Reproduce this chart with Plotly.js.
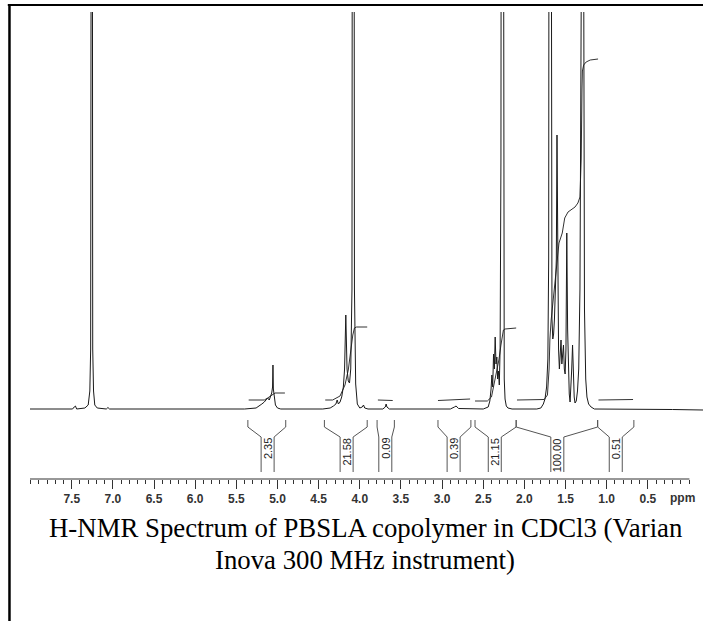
<!DOCTYPE html>
<html><head><meta charset="utf-8">
<script src="https://cdn.plot.ly/plotly-3.0.1.min.js"></script>
<style>html,body{margin:0;padding:0;background:#fff}#chart{width:703px;height:621px}</style>
</head><body><div id="chart"></div>
<script>
// ---- Spectrum (chemical shift in ppm, intensity in arbitrary units; tall peaks run off-scale) ----
const ppm = [
 8.007, 7.60, 7.49, 7.47, 7.455, 7.44, 7.34, 7.30, 7.28, 7.27, 7.262, 7.255, 7.245, 7.235, 7.22, 7.19, 7.08, 7.06, 7.04,
 5.40, 5.26, 5.22, 5.19, 5.16, 5.14, 5.12, 5.10, 5.085, 5.07, 5.06, 5.055, 5.05, 5.04, 5.025, 5.00, 4.96,
 4.45, 4.36, 4.32, 4.29, 4.275, 4.26, 4.24, 4.22, 4.20, 4.185, 4.17, 4.155, 4.14, 4.125, 4.11, 4.095, 4.085, 4.075, 4.065, 4.05, 4.03, 4.00, 3.97, 3.955, 3.94, 3.90,
 3.72, 3.69, 3.68, 3.67, 3.64,
 2.90, 2.85, 2.83, 2.80,
 2.50, 2.44, 2.42, 2.405, 2.395, 2.385, 2.375, 2.365, 2.355, 2.345, 2.335, 2.325, 2.315, 2.305, 2.295, 2.285, 2.275, 2.265, 2.255, 2.245, 2.235, 2.22, 2.20, 2.15,
 1.85, 1.80, 1.77, 1.75, 1.73, 1.715, 1.705, 1.695, 1.685, 1.675, 1.665, 1.655, 1.645, 1.635, 1.62, 1.612, 1.604, 1.596, 1.585, 1.575, 1.565, 1.555, 1.545, 1.535, 1.525, 1.515, 1.505, 1.495, 1.485, 1.475, 1.465, 1.455, 1.445, 1.435, 1.425, 1.415, 1.405, 1.395, 1.385, 1.37, 1.355, 1.34, 1.325, 1.31, 1.30, 1.29, 1.28, 1.27, 1.255, 1.24, 1.22, 1.19, 1.15,
 0.90, 0.50, 0.20, -0.170
];
const intensity = [
 0, 0, 0, 2, 3, 0, 1, 4, 18, 60, 1200, 1200, 60, 18, 4, 1, 0, 1.5, 0,
 0, 1, 3, 5, 7, 9, 11, 9, 13, 16, 22, 44, 20, 10, 4, 1, 0,
 0, 1, 3, 5, 9, 5, 7, 12, 22, 40, 94, 40, 28, 26, 40, 120, 1200, 1200, 120, 25, 5, 1, 2, 4, 1, 0,
 0, 2, 5, 2, 0,
 0, 2, 3, 0.5,
 0, 2, 8, 20, 34, 22, 55, 40, 72, 45, 52, 30, 38, 24, 60, 250, 1200, 1200, 150, 30, 10, 3, 1, 0,
 0, 1, 5, 10, 22, 50, 150, 1200, 1200, 200, 90, 70, 75, 90, 140, 150, 274, 150, 60, 40, 55, 69, 45, 55, 64, 40, 35, 60, 176, 80, 30, 15, 7, 20, 40, 64, 30, 12, 6, 8, 18, 40, 120, 400, 1200, 1200, 400, 100, 30, 12, 5, 2, 0,
 0, -0.5, -0.5, -1
];

// ---- Integral curves (segments separated by null) ----
const integralPpm = [
 5.35, 5.16, 5.12, 5.08, 5.055, 5.03, 4.91, null,
 4.42, 4.33, 4.24, 4.18, 4.14, 4.11, 4.085, 4.065, 4.04, 3.91, null,
 3.78, 3.60, null,
 3.05, 2.66, null,
 2.60, 2.45, 2.40, 2.37, 2.345, 2.31, 2.285, 2.27, 2.255, 2.235, 2.10, null,
 2.09, 1.76, 1.72, 1.70, 1.69, 1.675, 1.58, 1.54, 1.51, 1.47, 1.385, 1.35, 1.325, 1.31, 1.30, 1.295, 1.28, 1.25, 1.20, 1.105, null,
 1.10, 0.68
];
const integralValue = [
 9, 9, 11, 13, 15, 16, 16, null,
 9, 9, 13, 24, 39, 59, 74, 81, 82, 82, null,
 9, 8.5, null,
 8.5, 10, null,
 8, 8, 12, 24, 37, 49, 64, 74, 79, 80, 81, null,
 9, 9.5, 14, 40, 70, 89, 166, 176, 191, 197, 202, 206, 212, 250, 320, 338, 344, 347, 349, 350, null,
 9, 9.5
];

// ---- Integration regions (ppm) and their values ----
const regionFrom  = [5.36, 4.43, 3.79, 3.05, 2.60, 2.10, 1.11];
const regionTo    = [4.90, 3.91, 3.58, 2.65, 2.10, 1.11, 0.67];
const regionMid   = [5.12, 4.16, 3.69, 2.86, 2.36, 1.60, 0.89];
const regionLabel = ['2.35', '21.58', '0.09', '0.39', '21.15', '100.00', '0.51'];

// ---- Axis ticks ----
const tickVals = [8.0, 7.5, 7.0, 6.5, 6.0, 5.5, 5.0, 4.5, 4.0, 3.5, 3.0, 2.5, 2.0, 1.5, 1.0, 0.5, 0.0];
const tickText = ['', '7.5', '7.0', '6.5', '6.0', '5.5', '5.0', '4.5', '4.0', '3.5', '3.0', '2.5', '2.0', '1.5', '1.0', '0.5', ''];
const unitLabel = 'ppm';
const captionLines = ['H-NMR Spectrum of PBSLA copolymer in CDCl3 (Varian', 'Inova 300 MHz instrument)'];

// ---- build ----
const minorVals = [];
for (let i = 0; i <= 80; i++) minorVals.push(i / 10);

const G = 6.5 / 82.3; // half gap of bracket label slot (ppm)
const bx = [], by = [];
for (let i = 0; i < regionFrom.length; i++) {
  const m = regionMid[i];
  bx.push(regionFrom[i], regionFrom[i], m + G, m + G, null, regionTo[i], regionTo[i], m - G, m - G, null);
  by.push(-11, -18, -28, -63, null, -11, -18, -28, -63, null);
}

const traces = [
  {x: bx, y: by, mode: 'lines', line: {color: '#555', width: 1}, hoverinfo: 'skip', connectgaps: false},
  {x: integralPpm, y: integralValue, mode: 'lines', line: {color: '#333', width: 1}, connectgaps: false, hoverinfo: 'skip'},
  {x: ppm, y: intensity, mode: 'lines', line: {color: '#1a1a1a', width: 1}, hoverinfo: 'skip'}
];

const annotations = regionLabel.map((t, i) => ({
  x: regionMid[i], y: -27, xref: 'x', yref: 'y', text: t, showarrow: false,
  textangle: -90, yanchor: 'top', xanchor: 'center',
  font: {family: 'Liberation Sans, Arial, sans-serif', size: 11, color: '#222'}
}));
annotations.push({
  x: 0.079, y: (479 - 498) / 467, xref: 'x', yref: 'paper', text: unitLabel, showarrow: false,
  xanchor: 'center', yanchor: 'middle',
  font: {family: 'Liberation Sans, Arial, sans-serif', size: 12, color: '#333', weight: 'bold'}
});
const capY = [(479 - 528) / 467, (479 - 560) / 467];
captionLines.forEach((t, i) => annotations.push({
  x: 0.4978, y: capY[i], xref: 'paper', yref: 'paper', text: t, showarrow: false,
  xanchor: 'center', yanchor: 'middle',
  font: {family: 'Liberation Serif, Times New Roman, serif', size: 26.8, color: '#000'}
}));

const layout = {
  width: 703, height: 621,
  margin: {l: 30, r: 0, t: 12, b: 142, pad: 0},
  paper_bgcolor: '#fff', plot_bgcolor: '#fff',
  showlegend: false,
  xaxis: {
    range: [8.007, -0.170], tickmode: 'array', tickvals: tickVals, ticktext: tickText,
    ticks: 'outside', ticklen: 9, tickwidth: 1, tickcolor: '#333',
    tickfont: {family: 'Liberation Sans, Arial, sans-serif', size: 12, color: '#333', weight: 'bold'},
    showgrid: false, zeroline: false, showline: false, fixedrange: true,
    minor: {tickmode: 'array', tickvals: minorVals, ticks: 'outside', ticklen: 4, tickwidth: 1, tickcolor: '#333', showgrid: false}
  },
  yaxis: {range: [-70, 397], visible: false, fixedrange: true},
  shapes: [
    {type: 'line', xref: 'x', yref: 'paper', x0: 8.007, x1: -0.005, y0: 0, y1: 0, line: {color: '#333', width: 1.2}},
    {type: 'line', xref: 'paper', yref: 'paper', x0: -0.0305, x1: -0.0305, y0: 1.016, y1: -0.33, line: {color: '#000', width: 2.5}},
    {type: 'line', xref: 'paper', yref: 'paper', x0: -0.033, x1: 1.01, y0: 1.015, y1: 1.015, line: {color: '#000', width: 2}}
  ],
  annotations: annotations
};

Plotly.newPlot('chart', traces, layout, {displayModeBar: false, staticPlot: true});
</script></body></html>
